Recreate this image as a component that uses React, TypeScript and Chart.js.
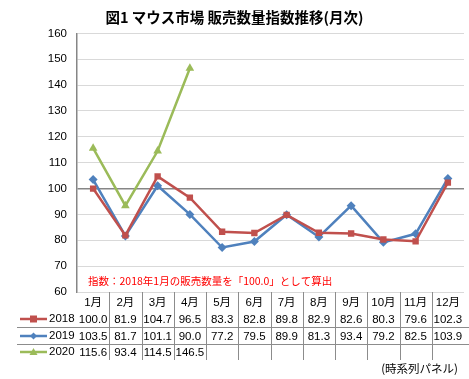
import React, { useEffect, useRef } from "react";
import { Chart, registerables } from "chart.js";

Chart.register(...registerables);

const months = ["1月", "2月", "3月", "4月", "5月", "6月", "7月", "8月", "9月", "10月", "11月", "12月"];
const seriesNames = ["2018", "2019", "2020"];
const values2018 = [100.0, 81.9, 104.7, 96.5, 83.3, 82.8, 89.8, 82.9, 82.6, 80.3, 79.6, 102.3];
const values2019 = [103.5, 81.7, 101.1, 90.0, 77.2, 79.5, 89.9, 81.3, 93.4, 79.2, 82.5, 103.9];
const values2020 = [115.6, 93.4, 114.5, 146.5, null, null, null, null, null, null, null, null];
const yMin = 60;
const yMax = 160;
const yStep = 10;
const titleText = "図1 マウス市場 販売数量指数推移(月次)";
const noteText = "指数：2018年1月の販売数量を「100.0」として算出";
const footerText = "(時系列パネル)";

const colors = ["#C0504D", "#4F81BD", "#9BBB59"];
const markers = ["rect", "rectRot", "triangle"];
const NUM_FONT = "'Liberation Sans', 'Noto Sans CJK JP', sans-serif";
const CJK_FONT = "'Noto Sans CJK JP', sans-serif";

const fmt = (v: number | null) => (v === null || v === undefined ? "" : v.toFixed(1));

const tablePlugin = {
  id: "tablePlugin",
  afterDraw(chart: any) {
    const ctx = chart.ctx;
    const x = chart.scales.x;
    const area = chart.chartArea;
    ctx.save();
    // note
    ctx.fillStyle = "#FF0000";
    ctx.font = `10.5px ${CJK_FONT}`;
    ctx.textAlign = "left";
    ctx.textBaseline = "middle";
    ctx.fillText(noteText, area.left + 11, 281.5);

    // table lines
    ctx.strokeStyle = "#8C8C8C";
    ctx.lineWidth = 1;
    const n = months.length;
    for (let i = 0; i < n - 1; i++) {
      const px = Math.round((x.getPixelForValue(i) + x.getPixelForValue(i + 1)) / 2) + 0.5;
      ctx.beginPath();
      ctx.moveTo(px, area.bottom);
      ctx.lineTo(px, 360);
      ctx.stroke();
    }
    [327.5, 344.5].forEach((py) => {
      ctx.beginPath();
      ctx.moveTo(17, py);
      ctx.lineTo(chart.width, py);
      ctx.stroke();
    });

    // legend keys
    const rowY = [319, 336, 352];
    seriesNames.forEach((name, i) => {
      const y = rowY[i];
      ctx.strokeStyle = colors[i];
      ctx.lineWidth = 2.5;
      ctx.beginPath();
      ctx.moveTo(20, y);
      ctx.lineTo(47, y);
      ctx.stroke();
      ctx.fillStyle = colors[i];
      ctx.beginPath();
      if (i === 0) {
        ctx.rect(30, y - 3.5, 7, 7);
      } else if (i === 1) {
        ctx.moveTo(33.5, y - 3.5);
        ctx.lineTo(37, y);
        ctx.lineTo(33.5, y + 3.5);
        ctx.lineTo(30, y);
        ctx.closePath();
      } else {
        ctx.moveTo(33.5, y - 4);
        ctx.lineTo(37.5, y + 3);
        ctx.lineTo(29.5, y + 3);
        ctx.closePath();
      }
      ctx.fill();
      ctx.fillStyle = "#000";
      ctx.font = `11.5px ${NUM_FONT}`;
      ctx.textAlign = "left";
      ctx.fillText(name, 49, y);
    });

    // footer
    ctx.fillStyle = "#000";
    ctx.font = `11.5px ${CJK_FONT}`;
    ctx.textAlign = "right";
    ctx.fillText(footerText, 458, 369);
    ctx.restore();
  },
};

export default function App() {
  const ref = useRef<HTMLCanvasElement | null>(null);
  useEffect(() => {
    document.body.style.margin = "0";
    const allSeries = [values2018, values2019, values2020];
    const chart = new Chart(ref.current as HTMLCanvasElement, {
      type: "line",
      data: {
        labels: months,
        datasets: allSeries.map((vals, i) => ({
          label: seriesNames[i],
          data: vals,
          borderColor: colors[i],
          backgroundColor: colors[i],
          borderWidth: 2.5,
          pointStyle: markers[i] as any,
          pointRadius: i === 2 ? 5 : 4.5,
          pointBorderWidth: 0,
          tension: 0,
          spanGaps: false,
        })),
      },
      options: {
        responsive: false,
        animation: false,
        layout: { padding: 0 },
        plugins: {
          legend: { display: false },
          tooltip: { enabled: false },
          title: {
            display: true,
            text: titleText,
            color: "#000",
            font: { family: CJK_FONT, size: 14.5, weight: "bold", lineHeight: 1.2 },
            padding: { top: 8.5, bottom: 7.5 },
          },
        },
        scales: {
          x: {
            type: "category",
            offset: true,
            grid: { display: false, drawTicks: false },
            border: { display: false },
            afterFit(scale: any) {
              scale.height = 87;
            },
            ticks: {
              color: "#000",
              padding: 2.5,
              autoSkip: false,
              maxRotation: 0,
              font: { family: NUM_FONT, size: 11.5, lineHeight: "16.8px" },
              callback: (_v: any, i: number) => [
                months[i],
                fmt(values2018[i]),
                fmt(values2019[i]),
                fmt(values2020[i] as any),
              ],
            },
          },
          y: {
            min: yMin,
            max: yMax,
            afterFit(scale: any) {
              scale.width = 77;
            },
            ticks: {
              stepSize: yStep,
              color: "#000",
              padding: 10,
              font: { family: NUM_FONT, size: 11.5 },
            },
            grid: {
              drawTicks: false,
              color: (c: any) => (c.tick && c.tick.value === 100 ? "#868686" : "#D9D9D9"),
              lineWidth: (c: any) => (c.tick && c.tick.value === 100 ? 1.5 : 1),
            },
            border: { color: "#868686", width: 1.5 },
          },
        },
      },
      plugins: [tablePlugin],
    });
    return () => chart.destroy();
  }, []);
  return (
    <div style={{ position: "absolute", left: 0, top: 0, width: 469, height: 379, background: "#fff" }}>
      <canvas ref={ref} width={469} height={379} />
    </div>
  );
}
